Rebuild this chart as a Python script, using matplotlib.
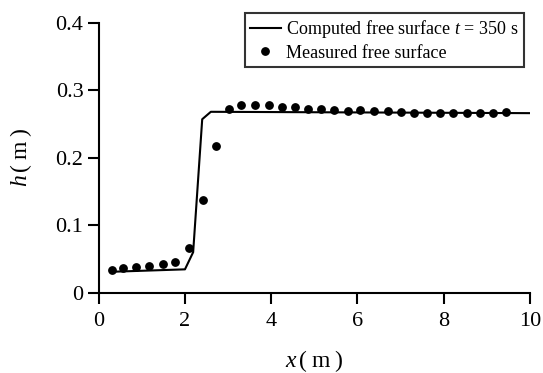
import matplotlib
matplotlib.use("Agg")
import matplotlib.pyplot as plt

plt.rcParams['font.family'] = ['Liberation Serif', 'DejaVu Serif']
plt.rcParams['mathtext.fontset'] = 'custom'
plt.rcParams['mathtext.rm'] = 'Liberation Serif'
plt.rcParams['mathtext.it'] = 'Liberation Serif:italic'

# Computed free surface (line)
x_comp = [0.3, 2.0, 2.19, 2.40, 2.60, 10.0]
h_comp = [0.031, 0.0346, 0.060, 0.257, 0.268, 0.266]

# Measured free surface (points)
x_meas = [0.30, 0.57, 0.865, 1.17, 1.48, 1.78, 2.10, 2.41, 2.71, 3.03, 3.31,
          3.63, 3.95, 4.24, 4.54, 4.85, 5.15, 5.46, 5.77, 6.07, 6.38, 6.70,
          7.00, 7.30, 7.61, 7.91, 8.22, 8.53, 8.83, 9.14, 9.44]
h_meas = [0.0336, 0.0366, 0.0385, 0.040, 0.043, 0.045, 0.0657, 0.137, 0.218,
          0.2726, 0.2785, 0.2785, 0.278, 0.2746, 0.2746, 0.2726, 0.2726, 0.271,
          0.2687, 0.270, 0.269, 0.269, 0.268, 0.2657, 0.2657, 0.2657, 0.266,
          0.2657, 0.266, 0.2657, 0.267]

xticks = [0, 2, 4, 6, 8, 10]
yticks = [0, 0.1, 0.2, 0.3, 0.4]
ytick_labels = ['0', '0.1', '0.2', '0.3', '0.4']

W, H = 543, 373
fig = plt.figure(figsize=(W / 100, H / 100), dpi=100)
ax = fig.add_axes([98.7 / W, (H - 292.7) / H, (530 - 98.7) / W, (292.7 - 22.7) / H])

ax.plot(x_comp, h_comp, color='black', lw=1.5,
        label=r'Computed free surface $t$ = 350 s')
ax.plot(x_meas, h_meas, 'o', color='black', ms=5.3, mec='black',
        label='Measured free surface')

ax.set_xlim(0, 10)
ax.set_ylim(0, 0.4)
ax.set_xticks(xticks)
ax.set_yticks(yticks)
ax.set_yticklabels(ytick_labels)
ax.tick_params(direction='out', length=8, width=1.5, labelsize=16)
ax.tick_params(axis='x', pad=6)
ax.tick_params(axis='y', pad=3)
for s in ['top', 'right']:
    ax.spines[s].set_visible(False)
for s in ['left', 'bottom']:
    ax.spines[s].set_linewidth(1.5)

ax.set_xlabel(r'$x\,(\;\mathrm{m}\;)$', fontsize=17)
ax.set_ylabel(r'$h\,(\;\mathrm{m}\;)$', fontsize=17)
ax.xaxis.set_label_coords(0.5, -0.205)
ax.yaxis.set_label_coords(-0.15, 0.5)

leg = ax.legend(loc='upper right', bbox_to_anchor=(524 / W, 1 - 12.7 / H),
                bbox_transform=fig.transFigure, borderaxespad=0,
                fontsize=13, frameon=True, fancybox=False, edgecolor='black',
                handlelength=1.7, handletextpad=0.3, borderpad=0.3,
                labelspacing=0.25)
leg.get_frame().set_linewidth(1.5)

fig.savefig('out.png', dpi=100)
